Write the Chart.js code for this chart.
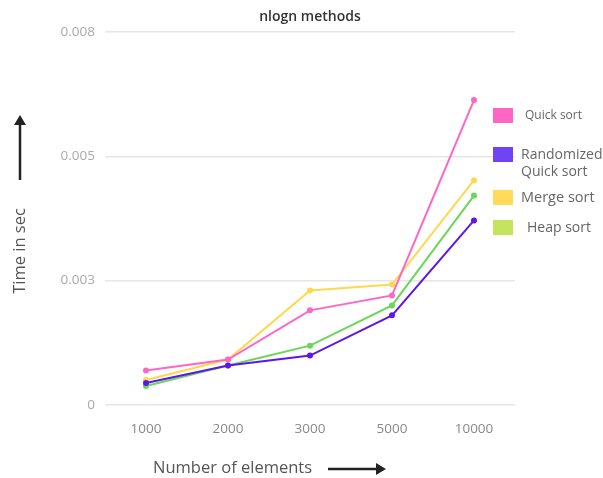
<!DOCTYPE html>
<html>
<head>
<meta charset="utf-8">
<script src="https://cdn.jsdelivr.net/npm/chart.js@4/dist/chart.umd.min.js"></script>
<style>
  html, body { margin: 0; padding: 0; background: #fff; }
  #wrap { width: 603px; height: 478px; }
</style>
</head>
<body>
<div id="wrap"><canvas id="chart" width="603" height="478"></canvas></div>
<script>
// Data
const categories = ['1000', '2000', '3000', '5000', '10000'];
const seriesNames = ['Quick sort', 'Randomized Quick sort', 'Merge sort', 'Heap sort'];
const quickSort = [0.00069, 0.00091, 0.0019, 0.0022, 0.00613];
const randomizedQuickSort = [0.00044, 0.00079, 0.00099, 0.0018, 0.00371];
const mergeSort = [0.0005, 0.00091, 0.0023, 0.00242, 0.00452];
const heapSort = [0.00038, 0.00079, 0.00119, 0.002, 0.00421];
const yTickLabels = ['0', '0.003', '0.005', '0.008'];
const chartTitle = 'nlogn methods';

const lineColors = ['#FF66C4', '#5E17EB', '#FFD84D', '#6CD65A'];
const legendColors = ['#FF66C4', '#7044F5', '#FFDB59', '#C4E35E'];
const FONT = '"Open Sans", "Noto Sans", sans-serif';

const allSeries = [quickSort, randomizedQuickSort, mergeSort, heapSort];

// Title, legend and axis titles drawn on the canvas where the original had them
const decorPlugin = {
    id: 'decor',
    afterDraw(chart) {
        const c = chart.ctx;
        const area = chart.chartArea;
        c.save();

        // title, centred over the plot area
        c.fillStyle = '#333';
        c.font = '600 14px ' + FONT;
        c.textAlign = 'center';
        c.textBaseline = 'middle';
        c.fillText(chartTitle, (area.left + area.right) / 2, 17);

        // legend
        const boxY = [108, 147, 190, 220];
        const textX = [525, 521, 521, 527];
        const fontSizes = [12, 14, 14.5, 14];
        chart.data.datasets.forEach((ds, i) => {
            c.fillStyle = legendColors[i];
            c.fillRect(493, boxY[i], 20, 15);
            c.fillStyle = '#666';
            c.font = fontSizes[i] + 'px ' + FONT;
            c.textBaseline = 'middle';
            c.textAlign = 'left';
            let lines = [ds.label];
            if (c.measureText(ds.label).width > 90) {
                const k = ds.label.indexOf(' ');
                lines = [ds.label.slice(0, k), ds.label.slice(k + 1)];
            }
            lines.forEach((t, j) => c.fillText(t, textX[i], boxY[i] + 8 + j * 17));
        });

        // y axis title with arrow
        c.fillStyle = '#555';
        c.strokeStyle = '#222';
        c.font = '16.5px ' + FONT;
        c.textAlign = 'center';
        c.textBaseline = 'middle';
        c.save();
        c.translate(20, 251);
        c.rotate(-Math.PI / 2);
        c.fillText('Time in sec', 0, 0);
        c.restore();
        c.lineWidth = 2.5;
        c.beginPath();
        c.moveTo(20, 180);
        c.lineTo(20, 122);
        c.stroke();
        c.fillStyle = '#222';
        c.beginPath();
        c.moveTo(14, 125);
        c.lineTo(20, 115);
        c.lineTo(26, 125);
        c.closePath();
        c.fill();

        // x axis title with arrow
        c.fillStyle = '#555';
        c.textAlign = 'left';
        c.fillText('Number of elements', 153, 468);
        c.beginPath();
        c.moveTo(328, 469);
        c.lineTo(378, 469);
        c.stroke();
        c.fillStyle = '#222';
        c.beginPath();
        c.moveTo(376, 463);
        c.lineTo(386, 469);
        c.lineTo(376, 475);
        c.closePath();
        c.fill();
        c.restore();
    }
};

new Chart(document.getElementById('chart'), {
    type: 'line',
    data: {
        labels: categories,
        datasets: allSeries.map((vals, i) => ({
            label: seriesNames[i],
            data: vals,
            borderColor: lineColors[i],
            backgroundColor: lineColors[i],
            borderWidth: 2,
            pointRadius: 2,
            pointHoverRadius: 3,
            tension: 0,
            fill: false
        }))
    },
    options: {
        responsive: false,
        animation: false,
        layout: { padding: { left: 40, right: 88, top: 32, bottom: 33 } },
        plugins: {
            legend: { display: false },
            tooltip: { enabled: false },
            title: { display: false }
        },
        scales: {
            x: {
                offset: true,
                grid: { display: false },
                border: { display: false },
                ticks: { color: '#888', font: { family: FONT, size: 13.5 }, padding: 8 }
            },
            y: {
                min: 0,
                max: 0.0075,
                afterFit: s => { s.width = 65; },
                grid: { color: '#e6e6e6', drawTicks: false, lineWidth: 1.5 },
                border: { display: false },
                ticks: {
                    stepSize: 0.0025,
                    color: '#aaa',
                    padding: 10,
                    font: { family: FONT, size: 13.5 },
                    callback: (v, i) => yTickLabels[i]
                }
            }
        }
    },
    plugins: [decorPlugin]
});
</script>
</body>
</html>
